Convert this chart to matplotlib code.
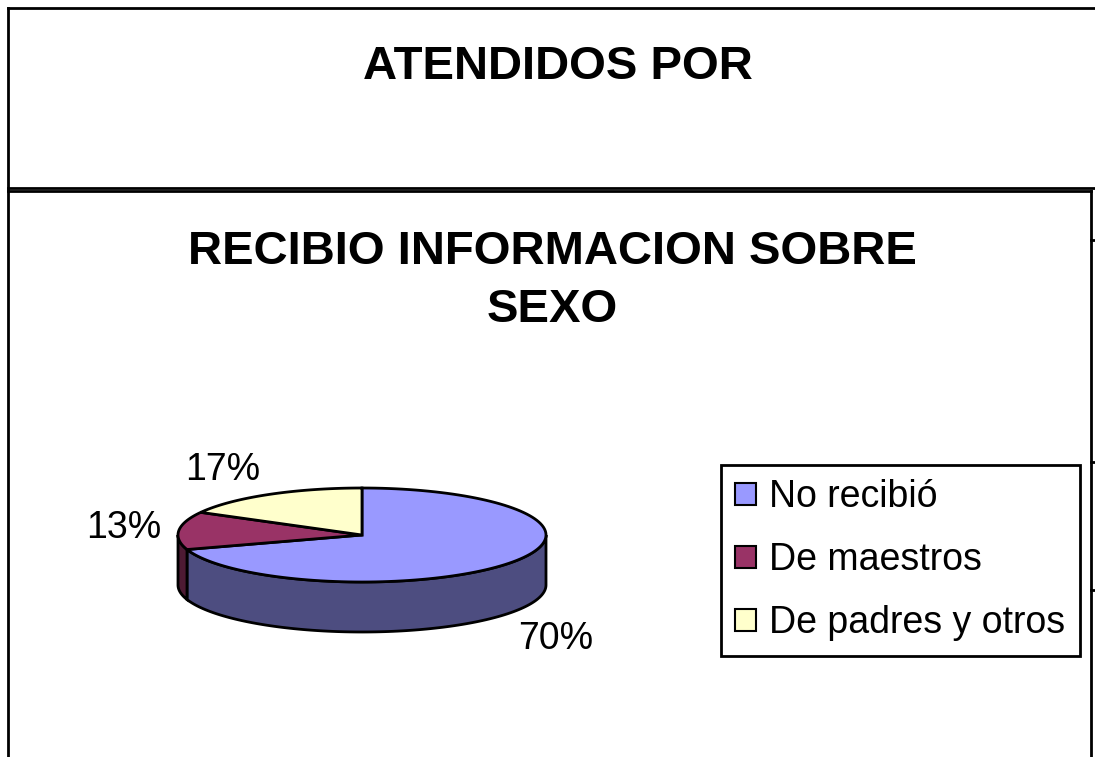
import numpy as np
import matplotlib.pyplot as plt
from matplotlib.patches import Patch

# Data
labels = ['No recibió', 'De maestros', 'De padres y otros']
values = [70, 13, 17]
pct_labels = ['70%', '13%', '17%']
top_colors = ['#9999FF', '#993366', '#FFFFCC']
side_colors = ['#4D4D80', '#4D1A33', '#808066']
outer_title = 'ATENDIDOS POR'
chart_title = 'RECIBIO INFORMACION SOBRE\nSEXO'

plt.rcParams['font.family'] = ['Liberation Sans', 'DejaVu Sans']

W, H = 1095, 757
fig = plt.figure(figsize=(W / 100, H / 100), dpi=100)
ax = fig.add_axes([0, 0, 1, 1])
ax.set_xlim(0, W)
ax.set_ylim(H, 0)
ax.axis('off')

# frames (pixel space)
lw = 2.0
ax.plot([8, W], [8, 8], color='black', lw=lw)
ax.plot([8, 8], [8, H], color='black', lw=lw)
ax.plot([8, W], [188, 188], color='black', lw=lw)
ax.plot([8, 1091], [191, 191], color='black', lw=lw)
ax.plot([1091, 1091], [191, H], color='black', lw=lw)
for yt in [240, 462, 590]:
    ax.plot([1091, W], [yt, yt], color='black', lw=lw)

ax.text(558, 67, outer_title, ha='center', va='center', fontsize=34, fontweight='bold')
ax.text(552, 281, chart_title, ha='center', va='center', fontsize=34, fontweight='bold',
        linespacing=1.4)

# 3D pie
cx, cy, rx, ry, depth = 362, 535, 184, 47, 50
fracs = np.array(values) / sum(values)
starts = 90 - 360 * np.concatenate([[0], np.cumsum(fracs)[:-1]])
ends = starts - 360 * fracs


def arc(t0, t1, n=120):
    t = np.radians(np.linspace(t0, t1, n))
    return cx + rx * np.cos(t), cy - ry * np.sin(t)


# side walls (front half: angles -180..0)
for s, e, c in zip(starts, ends, side_colors):
    lo, hi = e, s
    for off in [0, -360]:
        a, b = max(lo + off, -180), min(hi + off, 0)
        if b > a:
            x, y = arc(a, b)
            xs = np.concatenate([x, x[::-1]])
            ys = np.concatenate([y, y[::-1] + depth])
            ax.fill(xs, ys, facecolor=c, edgecolor='black', lw=lw, zorder=2)

# top faces
for s, e, c in zip(starts, ends, top_colors):
    x, y = arc(s, e)
    ax.fill(np.concatenate([[cx], x]), np.concatenate([[cy], y]),
            facecolor=c, edgecolor='black', lw=lw, zorder=3)

# percent labels
for s, e, t in zip(starts, ends, pct_labels):
    m = np.radians((s + e) / 2)
    lx = cx + rx * 1.3 * np.cos(m)
    ly = cy - ry * 1.6 * np.sin(m)
    if np.sin(m) < 0:
        ly += depth * 1.2
    elif np.sin(m) > 0.5:
        lx -= 18
    ax.text(lx, ly, t, ha='center', va='center', fontsize=27)

handles = [Patch(facecolor=c, edgecolor='black', lw=1.5) for c in top_colors]
leg = fig.legend(handles, labels, loc='upper left', bbox_to_anchor=(721 / W, 1 - 465 / H),
                 fontsize=27, frameon=True, fancybox=False, edgecolor='black', framealpha=1,
                 handlelength=0.56, handleheight=0.56, handletextpad=0.35,
                 borderpad=0.38, labelspacing=0.72, borderaxespad=0)
leg.get_frame().set_linewidth(2)

fig.savefig('out.png', dpi=100)
